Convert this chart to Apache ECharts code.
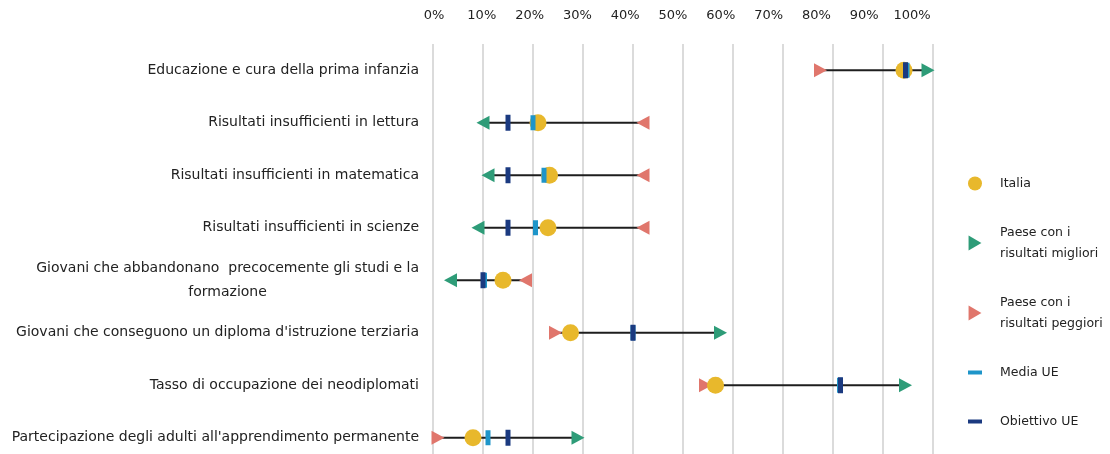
<!DOCTYPE html>
<html><head><meta charset="utf-8">
<script src="https://cdn.jsdelivr.net/npm/echarts@6/dist/echarts.min.js"></script>
<style>html,body{margin:0;padding:0;background:#fff}#c{width:1110px;height:454px}</style>
</head><body><div id="c"></div>
<script>
const categories = [
  'Educazione e cura della prima infanzia',
  'Risultati insufficienti in lettura',
  'Risultati insufficienti in matematica',
  'Risultati insufficienti in scienze',
  'Giovani che abbandonano  precocemente gli studi e la\nformazione',
  "Giovani che conseguono un diploma d'istruzione terziaria",
  'Tasso di occupazione dei neodiplomati',
  "Partecipazione degli adulti all'apprendimento permanente"
];
const italia      = [94.2, 21, 23.3, 23, 14, 27.5, 56.5, 8];
const migliori    = [99, 10, 11, 9, 3.5, 57.5, 94.5, 29];
const peggiori    = [77.5, 42, 42, 42, 18.5, 24.5, 54.5, 1];
const mediaUE     = [94.8, 20, 22.2, 20.5, 10.3, 40, 81.3, 11];
const obiettivoUE = [94.5, 15, 15, 15, 10, 40, 81.5, 15];
// +1: higher is better (arrow points right), -1: lower is better (arrow points left)
const direction   = [1, -1, -1, -1, -1, 1, 1, 1];
const xMin = 0, xMax = 100, xStep = 10;

const C_IT = '#E8B82C', C_BEST = '#2E9C78', C_WORST = '#E0766C', C_MEDIA = '#1E95C9', C_OBJ = '#1B3A80';

function tri(vals) {
  return vals.map((v, i) => ({ value: [v, i], symbolRotate: direction[i] > 0 ? -90 : 90 }));
}
const chart = echarts.init(document.getElementById('c'));
const font = 'DejaVu Sans';
chart.setOption({
  animation: false,
  textStyle: { fontFamily: font },
  grid: [
    { left: 433, width: 500, top: 44, height: 420, containLabel: false, outerBoundsMode: 'none' },
    { left: 434, width: 478, top: 44, height: 1, containLabel: false, outerBoundsMode: 'none' }
  ],
  xAxis: [{
    type: 'value', position: 'top', min: xMin, max: xMax, interval: xStep, gridIndex: 0,
    axisLine: { show: false }, axisTick: { show: false }, axisLabel: { show: false },
    splitLine: { lineStyle: { color: '#cfcfcf', width: 1.5 } }
  }, {
    type: 'value', position: 'top', min: xMin, max: xMax, interval: xStep, gridIndex: 1,
    axisLine: { show: false }, axisTick: { show: false }, splitLine: { show: false },
    axisLabel: { formatter: v => v + '%', color: '#222', fontSize: 13, margin: 22, fontFamily: font }
  }],
  yAxis: [{
    type: 'category', inverse: true, data: categories, gridIndex: 0,
    axisLine: { show: false }, axisTick: { show: false }, splitLine: { show: false },
    axisLabel: {
      color: '#222', fontSize: 14, margin: 14, fontFamily: font,
      formatter: (v) => {
        const p = v.split('\n');
        if (p.length === 1) return '{a|' + v + '}';
        return '{a|' + p[0] + '}\n{b|' + p[1] + '}';
      },
      rich: {
        a: { fontSize: 14, color: '#222', fontFamily: font, lineHeight: 24 },
        b: { fontSize: 14, color: '#222', fontFamily: font, align: 'center', lineHeight: 24 }
      }
    }
  }, { type: 'value', gridIndex: 1, show: false }],
  legend: {
    orient: 'vertical', left: 968, top: 171, padding: 0, itemGap: 24, itemWidth: 14, itemHeight: 15,
    textStyle: { fontSize: 12.5, color: '#222', lineHeight: 21, fontFamily: font, padding: [2, 0, 2, 13] },
    selectedMode: false,
    data: [
      { name: 'Italia', icon: 'circle' },
      { name: 'Paese con i\nrisultati migliori', icon: 'path://M0,0 L12,7 L0,14 Z' },
      { name: 'Paese con i\nrisultati peggiori', icon: 'path://M0,0 L12,7 L0,14 Z' },
      { name: 'Media UE', icon: 'path://M0,0 H14 V4 H0 Z' },
      { name: 'Obiettivo UE', icon: 'path://M0,0 H14 V4 H0 Z' }
    ]
  },
  series: [
    {
      type: 'custom', name: 'range', silent: true,
      data: peggiori.map((w, i) => [w, migliori[i], i]),
      renderItem: (params, api) => {
        const a = api.coord([api.value(0), api.value(2)]);
        const b = api.coord([api.value(1), api.value(2)]);
        return { type: 'line', shape: { x1: a[0], y1: a[1], x2: b[0], y2: b[1] }, style: { stroke: '#1e1e1e', lineWidth: 2 } };
      },
      encode: { x: [0, 1], y: 2 }, z: 1
    },
    { type: 'scatter', name: 'Paese con i\nrisultati peggiori', data: tri(peggiori), symbol: 'triangle', symbolSize: [14, 13], itemStyle: { color: C_WORST, opacity: 1 }, z: 2 },
    { type: 'scatter', name: 'Paese con i\nrisultati migliori', data: tri(migliori), symbol: 'triangle', symbolSize: [14, 13], itemStyle: { color: C_BEST, opacity: 1 }, z: 2 },
    { type: 'scatter', name: 'Italia', data: italia.map((v, i) => [v, i]), symbol: 'circle', symbolSize: 17, itemStyle: { color: C_IT, opacity: 1 }, z: 3 },
    { type: 'scatter', name: 'Media UE', data: mediaUE.map((v, i) => [v, i]), symbol: 'rect', symbolSize: [5, 15], itemStyle: { color: C_MEDIA, opacity: 1 }, z: 4 },
    { type: 'scatter', name: 'Obiettivo UE', data: obiettivoUE.map((v, i) => [v, i]), symbol: 'rect', symbolSize: [5, 16], itemStyle: { color: C_OBJ, opacity: 1 }, z: 5 }
  ]
});
</script></body></html>
